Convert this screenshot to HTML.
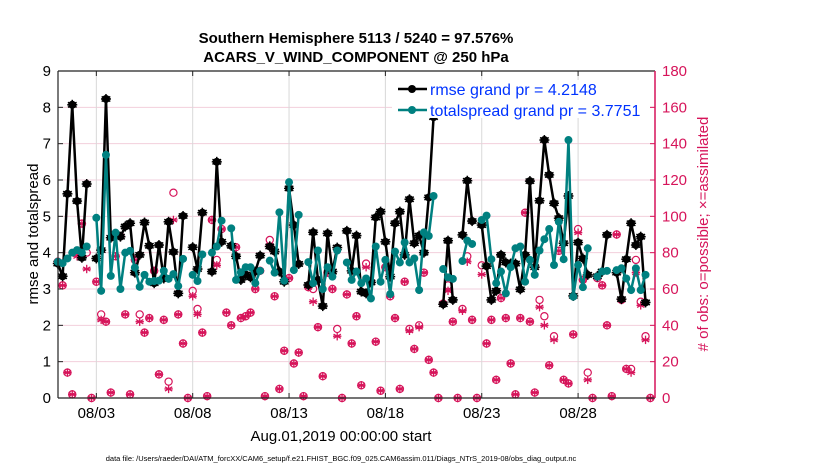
<!DOCTYPE html>
<html><head><meta charset="utf-8"><style>
body{margin:0;background:#fff;}
svg{display:block;font-family:"Liberation Sans",sans-serif;}
</style></head><body>
<svg id="chart" width="830" height="470" viewBox="0 0 830 470" xmlns="http://www.w3.org/2000/svg">
<rect width="830" height="470" fill="#fff"/>
<text x="356" y="43" font-size="15" font-weight="bold" text-anchor="middle">Southern Hemisphere 5113 / 5240 = 97.576%</text>
<text x="356" y="62" font-size="15" font-weight="bold" text-anchor="middle">ACARS_V_WIND_COMPONENT @ 250 hPa</text>
<g id="grid"></g>
<g id="obs"></g>
<g id="rmse"></g>
<g id="spread"></g>
<g id="axes"></g>
<text transform="translate(38,234) rotate(-90)" font-size="15" text-anchor="middle">rmse and totalspread</text>
<text transform="translate(708,234) rotate(-90)" font-size="15" fill="#d6145a" text-anchor="middle"># of obs: o=possible; ×=assimilated</text>
<text x="341" y="441" font-size="15" text-anchor="middle">Aug.01,2019 00:00:00 start</text>
<text x="341" y="461" font-size="7.5" text-anchor="middle">data file: /Users/raeder/DAI/ATM_forcXX/CAM6_setup/f.e21.FHIST_BGC.f09_025.CAM6assim.011/Diags_NTrS_2019-08/obs_diag_output.nc</text>
<g>
<rect x="392" y="80" width="258" height="38" fill="#fff"/>
<line x1="398" y1="89" x2="427" y2="89" stroke="#000" stroke-width="2.5"/>
<circle cx="412" cy="89" r="4" fill="#000"/>
<text x="430" y="95" font-size="16" fill="#0033ff">rmse grand pr = 4.2148</text>
<line x1="398" y1="110" x2="427" y2="110" stroke="#008080" stroke-width="2.5"/>
<circle cx="412" cy="110" r="4" fill="#008080"/>
<text x="430" y="116" font-size="16" fill="#0033ff">totalspread grand pr = 3.7751</text>
</g>
</svg>
<script>
const dateLabels=["08/03","08/08","08/13","08/18","08/23","08/28"];
const dateTickDays=[2,7,12,17,22,27];
const leftTicks=[0,1,2,3,4,5,6,7,8,9];
const rightTicks=[0,20,40,60,80,100,120,140,160,180];
const rmse=[3.7,3.35,5.62,8.07,5.42,3.86,5.89,null,3.84,4.07,8.23,4.41,4.5,4.44,4.72,4.81,3.45,3.94,4.83,4.19,3.16,4.21,3.29,4.85,4.02,2.88,5.01,null,4.15,3.55,5.1,null,3.48,6.5,4.3,null,4.19,3.9,3.25,3.4,3.32,3.48,3.92,null,4.17,4.03,3.48,3.2,5.77,4.76,3.69,null,3.11,4.56,3.25,2.53,4.53,3.48,4.14,null,4.6,3.5,4.47,2.93,2.88,3.18,4.97,5.13,4.3,3.34,4.81,5.13,3.94,5.47,4.26,4.47,4.0,5.52,7.73,null,2.58,4.33,2.7,null,4.49,5.98,4.87,null,4.76,3.63,2.7,2.95,3.94,3.73,3.7,3.7,2.99,3.94,5.97,3.6,5.43,7.1,6.14,5.36,4.95,4.26,5.56,2.81,4.28,3.84,3.39,null,3.35,3.48,4.49,null,3.45,2.72,3.82,4.81,4.21,4.44,2.63];
const spread=[3.75,3.71,3.84,4.0,4.07,4.0,4.17,null,4.96,2.95,6.69,3.36,4.55,3.0,4.0,4.05,3.59,3.06,3.39,3.2,3.22,3.23,3.5,3.28,3.41,3.08,3.83,null,3.39,3.22,3.95,null,4.0,4.17,4.88,null,4.67,3.25,3.46,3.6,3.6,3.16,3.5,null,3.78,3.45,5.11,3.23,5.94,3.52,5.04,null,3.74,3.16,4.06,3.0,3.6,3.34,4.06,null,3.73,3.25,3.48,3.16,3.29,2.74,4.17,3.2,3.8,2.86,4.03,3.73,4.28,3.73,3.84,2.97,4.56,4.46,5.56,null,3.55,3.32,3.28,null,3.77,4.33,4.24,null,4.9,5.02,3.82,3.16,3.48,2.88,3.6,4.12,4.17,3.2,3.8,3.39,4.06,4.37,4.65,3.66,4.85,3.82,7.1,2.79,3.66,3.05,4.12,null,3.34,3.48,3.5,null,3.52,3.57,3.29,2.97,3.57,2.97,3.39];
const nPossible=[75,62,14,2,81,96,80,0,64,46,42,3,78,89,46,2,76,46,36,44,70,13,43,9,113,46,30,0,59,49,36,1,98,76,93,47,40,83,44,45,47,60,70,1,87,56,5,26,66,19,25,1,61,60,39,12,69,60,38,0,57,30,45,7,74,64,31,4,72,56,44,5,64,38,27,40,69,21,14,0,52,62,42,0,49,78,43,0,73,30,43,10,55,44,19,2,44,102,42,3,54,45,18,34,81,10,8,35,93,65,14,0,66,62,40,1,90,54,16,16,76,53,34,0];
const nAssim=[75,62,14,2,78,96,71,0,64,43,42,3,78,89,46,2,76,42,36,44,70,13,43,5,98,46,30,0,56,46,36,1,98,73,93,47,40,83,44,45,47,60,70,1,84,56,5,26,66,19,25,1,61,53,39,12,69,60,34,0,57,30,45,7,72,64,31,4,72,56,44,5,64,37,27,39,69,21,14,0,52,59,42,0,48,75,43,0,68,30,43,10,55,44,19,2,44,102,42,3,50,40,18,32,81,10,8,35,91,65,10,0,66,62,40,1,90,54,16,14,69,51,32,0];

const NS='http://www.w3.org/2000/svg';
const X0=57.8,DAY=19.27,L=58,R=655,T=71,B=398;
function xOfDay(d){return X0+d*DAY;}
function xOfIdx(i){return xOfDay(i*0.25);}
function yL(v){return B-(v/9)*(B-T);}
function yR(v){return B-(v/180)*(B-T);}
function mk(tag,attrs,parent){const e=document.createElementNS(NS,tag);for(const k in attrs)e.setAttribute(k,attrs[k]);parent.appendChild(e);return e;}
const grid=document.getElementById('grid'),axes=document.getElementById('axes');
mk('rect',{x:L,y:T,width:R-L,height:B-T,fill:'#fff'},grid);
rightTicks.forEach(v=>{if(v>0&&v<180){const ln=mk('line',{x1:L,x2:R,y1:yR(v),y2:yR(v),stroke:'#f2cfdc','stroke-width':1},grid);

}});
dateTickDays.forEach((d,k)=>{const x=xOfDay(d);
const ln=mk('line',{x1:x,x2:x,y1:T,y2:B,stroke:'#d8d8d8','stroke-width':1},grid);


mk('line',{x1:x,x2:x,y1:B,y2:B-5,stroke:'#222'},axes);
mk('line',{x1:x,x2:x,y1:T,y2:T+5,stroke:'#222'},axes);
const t=mk('text',{x:x,y:B+20,'font-size':15,'text-anchor':'middle'},axes);t.textContent=dateLabels[k];

});
leftTicks.forEach(v=>{const y=yL(v);mk('line',{x1:L,x2:L+5,y1:y,y2:y,stroke:'#222'},axes);
const t=mk('text',{x:L-7,y:y+5,'font-size':15,'text-anchor':'end'},axes);t.textContent=v;

});
rightTicks.forEach(v=>{const y=yR(v);mk('line',{x1:R-5,x2:R,y1:y,y2:y,stroke:'#d6145a'},axes);
const t=mk('text',{x:R+7,y:y+5,'font-size':15,fill:'#d6145a'},axes);t.textContent=v;

});
mk('line',{x1:L,x2:R,y1:T,y2:T,stroke:'#222','stroke-width':1.2},axes);
mk('line',{x1:L,x2:R,y1:B,y2:B,stroke:'#222','stroke-width':1.2},axes);
mk('line',{x1:L,x2:L,y1:T,y2:B,stroke:'#222','stroke-width':1.2},axes);
mk('line',{x1:R,x2:R,y1:T,y2:B,stroke:'#d6145a','stroke-width':1.5},axes);
function star(g,x,y,r,col,w){for(let a=0;a<3;a++){const th=a*Math.PI/3+Math.PI/2;mk('line',{x1:x-r*Math.cos(th),y1:y-r*Math.sin(th),x2:x+r*Math.cos(th),y2:y+r*Math.sin(th),stroke:col,'stroke-width':w},g);}
mk('line',{x1:x-r,y1:y,x2:x+r,y2:y,stroke:col,'stroke-width':w},g);}
function series(vals,gid,col,withStar){const g=document.getElementById(gid);let seg=[];
const flush=()=>{if(seg.length>1){const p=mk('polyline',{points:seg.join(' '),fill:'none',stroke:col,'stroke-width':2.5,'stroke-linejoin':'round'},g);

}seg=[];};
vals.forEach((v,i)=>{if(v===null){flush();return;}seg.push(xOfIdx(i)+','+yL(v));});flush();
vals.forEach((v,i)=>{if(v===null)return;const c=mk('circle',{cx:xOfIdx(i),cy:yL(v),r:4,fill:col},g);


if(withStar)star(g,xOfIdx(i),yL(v),5,col,1.5);});}
series(rmse,'rmse','#000',true);
series(spread,'spread','#008080',false);
const og=document.getElementById('obs');
nPossible.forEach((v,i)=>{const c=mk('circle',{cx:xOfIdx(i),cy:yR(v),r:3.6,fill:'none',stroke:'#d6145a','stroke-width':1.2},og);

});
nAssim.forEach((v,i)=>{star(og,xOfIdx(i),yR(v),4.2,'#d6145a',1.3);});
</script>
</body></html>
